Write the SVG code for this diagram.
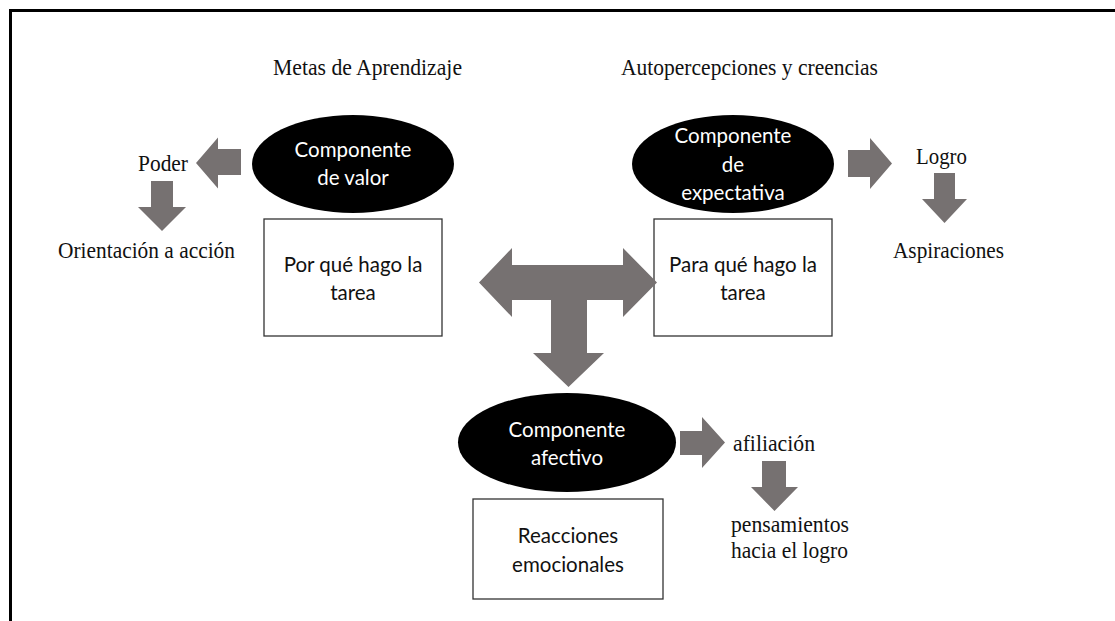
<svg xmlns="http://www.w3.org/2000/svg" width="1115" height="621" viewBox="0 0 1115 621">
<style>
.serif{font-family:"Liberation Serif","Times New Roman",serif;font-size:23px;fill:#111;}
.sans{font-family:Lato,"Open Sans","Liberation Sans",sans-serif;font-size:20.5px;text-anchor:middle;}
.w{fill:#fff;}
.k{fill:#111;}
.oval{fill:#000;}
.box{fill:#fff;stroke:#333;stroke-width:1.3;}
.arr{fill:#767171;}
</style>
<rect width="1115" height="621" fill="#fff"/>
<path d="M1115 10.5H10.5V621" fill="none" stroke="#000" stroke-width="3"/>

<g id="title-metas"><text class="serif" x="273" y="75" textLength="189" lengthAdjust="spacingAndGlyphs">Metas de Aprendizaje</text></g>
<g id="title-auto"><text class="serif" x="621" y="75" textLength="257" lengthAdjust="spacingAndGlyphs">Autopercepciones y creencias</text></g>

<g id="valor">
<ellipse class="oval" cx="353" cy="164" rx="101" ry="49"/>
<text class="sans w" x="353" y="157">Componente</text>
<text class="sans w" x="353" y="185">de valor</text>
</g>
<g id="expectativa">
<ellipse class="oval" cx="733" cy="164" rx="101" ry="49"/>
<text class="sans w" x="733" y="143">Componente</text>
<text class="sans w" x="733" y="172">de</text>
<text class="sans w" x="733" y="200">expectativa</text>
</g>
<g id="afectivo">
<ellipse class="oval" cx="567" cy="442.5" rx="109" ry="49.5"/>
<text class="sans w" x="567" y="437">Componente</text>
<text class="sans w" x="567" y="465">afectivo</text>
</g>

<g id="porque">
<rect class="box" x="264" y="219" width="178" height="117"/>
<text class="sans k" x="353" y="272">Por qué hago la</text>
<text class="sans k" x="353" y="300">tarea</text>
</g>
<g id="paraque">
<rect class="box" x="654" y="219" width="178" height="117"/>
<text class="sans k" x="743" y="272">Para qué hago la</text>
<text class="sans k" x="743" y="300">tarea</text>
</g>
<g id="reacciones">
<rect class="box" x="473" y="499" width="190" height="100"/>
<text class="sans k" x="568" y="543">Reacciones</text>
<text class="sans k" x="568" y="572">emocionales</text>
</g>

<g id="poder"><text class="serif" x="138" y="171" textLength="50" lengthAdjust="spacingAndGlyphs">Poder</text></g>
<g id="orientacion"><text class="serif" x="58" y="258" textLength="177" lengthAdjust="spacingAndGlyphs">Orientación a acción</text></g>
<g id="logro"><text class="serif" x="916" y="164" textLength="51" lengthAdjust="spacingAndGlyphs">Logro</text></g>
<g id="aspiraciones"><text class="serif" x="893" y="258" textLength="111" lengthAdjust="spacingAndGlyphs">Aspiraciones</text></g>
<g id="afiliacion"><text class="serif" x="733" y="451" textLength="82" lengthAdjust="spacingAndGlyphs">afiliación</text></g>
<g id="pensamientos">
<text class="serif" x="731" y="532" textLength="118" lengthAdjust="spacingAndGlyphs">pensamientos</text>
<text class="serif" x="731" y="558" textLength="117" lengthAdjust="spacingAndGlyphs">hacia el logro</text>
</g>

<g id="connectors">
<polygon class="arr" points="241,149 218,149 218,137.5 196,163 218,188.5 218,175 241,175"/>
<polygon class="arr" points="151,181 173,181 173,207 186,207 162,231 138,207 151,207"/>
<polygon class="arr" points="848,150 870,150 870,138 892,163.5 870,189 870,177 848,177"/>
<polygon class="arr" points="934,173 955,173 955,199 967,199 944.5,223 922,199 934,199"/>
<polygon class="arr" points="479,282.5 512,248 512,265 623,265 623,248 657,282.5 623,317 623,300 587,300 587,353 604,353 568.5,387 533,353 551,353 551,300 512,300 512,317"/>
<polygon class="arr" points="680,431 702,431 702,417 725,442.5 702,468 702,455 680,455"/>
<polygon class="arr" points="762,461 786,461 786,487 798,487 774.5,511 751,487 762,487"/>
</g>
</svg>
